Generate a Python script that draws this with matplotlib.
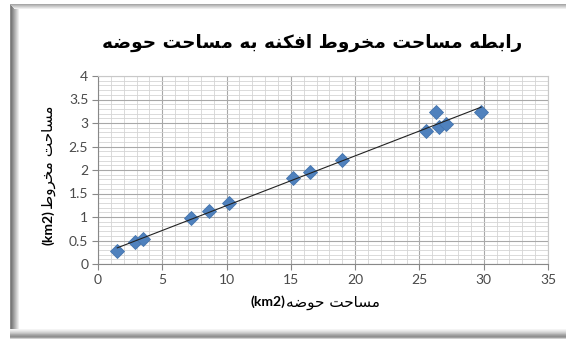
import numpy as np
import matplotlib
matplotlib.use('Agg')
import matplotlib.pyplot as plt
import matplotlib.ticker as mtick
from matplotlib.patches import Rectangle

# Basin area vs. alluvial fan area (km2)
basin_area = [1.5, 2.9, 3.5, 7.2, 8.6, 10.2, 15.2, 16.5, 19.0, 25.5, 26.3, 26.5, 27.1, 29.8]
fan_area = [0.27, 0.47, 0.54, 0.97, 1.13, 1.30, 1.82, 1.95, 2.21, 2.83, 3.23, 2.91, 2.98, 3.23]

x_ticks = [0, 5, 10, 15, 20, 25, 30, 35]
y_ticks = [0, 0.5, 1, 1.5, 2, 2.5, 3, 3.5, 4]

title_text = 'رابطه مساحت مخروط افکنه به مساحت حوضه'
xlabel_text = 'مساحت حوضه'
ylabel_text = 'مساحت مخروط'
unit_text = '(km2)'

# Arabic presentation forms: isolated, final, initial, medial
FORMS = {
    '\u0627': ('\uFE8D', '\uFE8E', None, None),
    '\u0628': ('\uFE8F', '\uFE90', '\uFE91', '\uFE92'),
    '\u062A': ('\uFE95', '\uFE96', '\uFE97', '\uFE98'),
    '\u062D': ('\uFEA1', '\uFEA2', '\uFEA3', '\uFEA4'),
    '\u062E': ('\uFEA5', '\uFEA6', '\uFEA7', '\uFEA8'),
    '\u0631': ('\uFEAD', '\uFEAE', None, None),
    '\u0633': ('\uFEB1', '\uFEB2', '\uFEB3', '\uFEB4'),
    '\u0636': ('\uFEBD', '\uFEBE', '\uFEBF', '\uFEC0'),
    '\u0637': ('\uFEC1', '\uFEC2', '\uFEC3', '\uFEC4'),
    '\u0641': ('\uFED1', '\uFED2', '\uFED3', '\uFED4'),
    '\u0645': ('\uFEE1', '\uFEE2', '\uFEE3', '\uFEE4'),
    '\u0646': ('\uFEE5', '\uFEE6', '\uFEE7', '\uFEE8'),
    '\u0647': ('\uFEE9', '\uFEEA', '\uFEEB', '\uFEEC'),
    '\u0648': ('\uFEED', '\uFEEE', None, None),
    '\u06A9': ('\uFB8E', '\uFB8F', '\uFB90', '\uFB91'),
}


def shape(text):
    # join letters and flip to visual order (matplotlib has no bidi)
    out = []
    for i, ch in enumerate(text):
        if ch not in FORMS:
            out.append(ch)
            continue
        prev = text[i - 1] if i > 0 else ''
        nxt = text[i + 1] if i + 1 < len(text) else ''
        joins_prev = prev in FORMS and FORMS[prev][2] is not None
        joins_next = FORMS[ch][2] is not None and nxt in FORMS
        iso, fin, ini, med = FORMS[ch]
        if joins_prev and joins_next:
            out.append(med)
        elif joins_prev:
            out.append(fin)
        elif joins_next:
            out.append(ini)
        else:
            out.append(iso)
    return ''.join(out)[::-1]


W, H = 566, 343
fig = plt.figure(figsize=(W / 100, H / 100), dpi=100)
fig.patch.set_facecolor('white')


def px_rect(x0, y0, x1, y1, color):
    # rectangle in pixel coords, origin top-left
    fig.patches.append(Rectangle((x0 / W, 1 - y1 / H), (x1 - x0) / W, (y1 - y0) / H,
                                 transform=fig.transFigure, color=color, lw=0, zorder=0))


# Chart frame with shadowed edges
left_shades = ['#8c8c8c', '#7a7a7a', '#888888', '#999999', '#aaaaaa', '#bbbbbb', '#cccccc', '#dddddd', '#eeeeee']
for i, c in enumerate(left_shades):
    px_rect(10 + i, 4, 11 + i, 339, c)
top_shades = ['#a8a8a8', '#bbbbbb', '#cccccc', '#dddddd', '#eeeeee']
for i, c in enumerate(top_shades):
    px_rect(10 + i, 4 + i, W, 5 + i, c)
bottom_shades = ['#f4f4f4', '#eaeaea', '#dedede', '#d0d0d0', '#c0c0c0', '#ababab', '#9c9c9c', '#909090', '#a0a0a0', '#d0d0d0']
for i, c in enumerate(bottom_shades):
    px_rect(10, 329 + i, W, 330 + i, c)

ax = fig.add_axes([98 / W, 1 - 264 / H, 450 / W, 188 / H])

ax.plot(basin_area, fan_area, 'D', color='#4f81bd', markeredgecolor='#4474ad',
        markeredgewidth=0.6, markersize=7, zorder=3)

# Linear trendline
slope, intercept = np.polyfit(basin_area, fan_area, 1)
xs = np.array([min(basin_area), max(basin_area)])
ax.plot(xs, slope * xs + intercept, color='#222222', lw=0.8, zorder=4)

ax.set_xlim(0, 35)
ax.set_ylim(0, 4)
ax.set_xticks(x_ticks)
ax.set_yticks(y_ticks)
ax.set_xticklabels([str(t) for t in x_ticks])
ax.set_yticklabels(['%g' % t for t in y_ticks])
ax.xaxis.set_minor_locator(mtick.MultipleLocator(1))
ax.yaxis.set_minor_locator(mtick.MultipleLocator(0.1))

ax.grid(which='major', color='#a8a8a8', lw=0.8)
ax.grid(which='minor', color='#d4d4d4', lw=0.6)
ax.set_axisbelow(True)

for side in ['top', 'right']:
    ax.spines[side].set_color('#c8c8c8')
    ax.spines[side].set_linewidth(0.8)
for side in ['left', 'bottom']:
    ax.spines[side].set_color('#888888')
    ax.spines[side].set_linewidth(0.8)

ax.tick_params(which='major', length=4, color='#888888', labelsize=10,
               labelcolor='#4a4a4a', pad=3)
ax.tick_params(which='minor', length=0)
for lab in ax.get_xticklabels() + ax.get_yticklabels():
    lab.set_family('Lato')

arabic_font = ['DejaVu Sans']

fig.text(312 / W, 1 - 43 / H, shape(title_text), ha='center', va='center',
         fontsize=13.3, fontweight='bold', family=arabic_font, color='#000000')

# x label: unit on the left, Arabic on the right
fig.text(286 / W, 1 - 302 / H, shape(xlabel_text), ha='left', va='center',
         fontsize=11, family=arabic_font, color='#000000')
fig.text(285 / W, 1 - 302 / H, unit_text, ha='right', va='center',
         fontsize=10, fontweight='bold', family='Lato', color='#000000')

# y label, rotated
fig.text(48 / W, 1 - 209 / H, shape(ylabel_text), ha='left', va='center',
         rotation=90, rotation_mode='anchor', fontsize=11, family=arabic_font, color='#000000')
fig.text(48 / W, 1 - 210 / H, unit_text, ha='right', va='center',
         rotation=90, rotation_mode='anchor', fontsize=10, fontweight='bold',
         family='Lato', color='#000000')

fig.savefig('out.png', dpi=100)
